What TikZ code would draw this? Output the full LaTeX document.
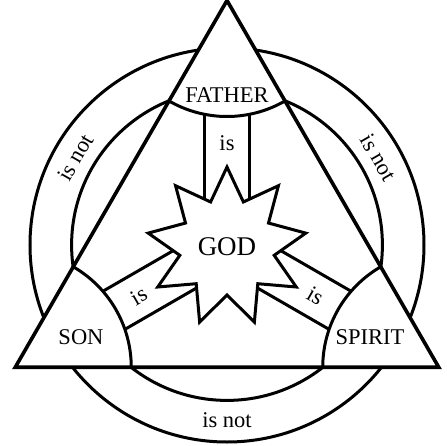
\documentclass[tikz,border=0pt]{standalone}
\usepackage{fontspec}
\setmainfont{Liberation Serif}
\usetikzlibrary{shapes.geometric}

\begin{document}
\begin{tikzpicture}[x=1pt,y=1pt,line width=3pt,
		word/.style={font=\fontsize{22.5}{27}\selectfont,inner sep=0pt},
		godstar/.style={star,star points=9,star point ratio=1.67,minimum size=160pt,
			draw,fill=white,inner sep=0pt,font=\fontsize{27}{32}\selectfont}]
				\useasboundingbox (-227,-200) rectangle (220,245);
				\coordinate (centre) at (0,0);
				\coordinate (apex) at (90:244.5);
				\coordinate (left) at (210:244.5);
				\coordinate (right) at (330:244.5);

				% the two rings
				\draw (centre) circle (197);
				\draw (centre) circle (155.4);

				% triangle over the rings
				\draw[fill=white,line width=3.6pt] (apex) -- (left) -- (right) -- cycle;

				% corner arcs
				\draw ([shift={(240:116)}]apex) arc (240:300:116);
				\draw ([shift={(0:116)}]left) arc (0:60:116);
				\draw ([shift={(120:116)}]right) arc (120:180:116);

				% the three bands
				\foreach \a in {0,120,240}
					\draw[rotate=\a] (-22,0) -- (-22,130.6) (22,0) -- (22,130.6);

				\node[godstar] (god) at (0,-2) {GOD};

				\node[word] (father) at (0,149.5) {FATHER};
				\node[word] (son) at (-146,-92) {SON};
				\node[word] (spirit) at (143,-92) {SPIRIT};

				\node[word] (isf) at (90:102) {is};
				\node[word,rotate=30] (iss) at (210:102) {is};
				\node[word,rotate=-30] (isp) at (330:102) {is};

				\node[word,rotate=60] (notfs) at (150:175) {is not};
				\node[word,rotate=-60] (notfp) at (30:175) {is not};
				\node[word] (notsp) at (270:175) {is not};
			\end{tikzpicture}
\end{document}
